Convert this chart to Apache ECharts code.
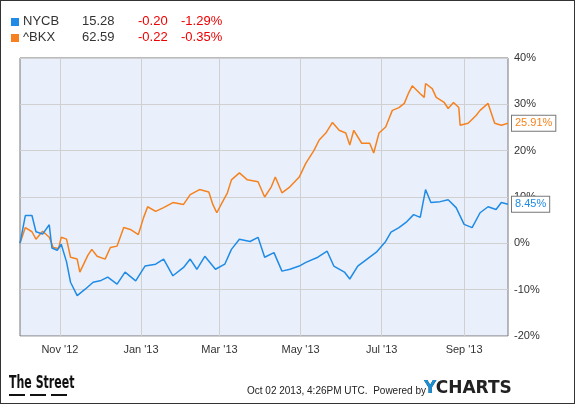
<!DOCTYPE html>
<html>
<head>
<meta charset="utf-8">
<script src="https://cdn.jsdelivr.net/npm/echarts@6/dist/echarts.min.js"></script>
<style>
html, body { margin: 0; padding: 0; background: #fff; }
#chart { width: 575px; height: 404px; box-sizing: border-box; border: 1px solid #333; }
</style>
</head>
<body>
<div id="chart"></div>
<script>
// days since Oct 2 2012, percent change
var nycbDays = [0,4,9,12,17,22,24,28,31,35,38,43,49,55,61,66,73,79,87,94,102,108,115,123,128,133,139,147,154,159,165,173,179,184,191,197,203,210,215,224,231,236,244,248,254,261,268,275,279,285,291,296,301,305,309,316,322,328,334,340,346,352,358,362,367];
var nycbVals = [0,6,6,2.5,2,4,-1,-1.5,-0.2,-4,-8.4,-11.3,-9.9,-8.4,-8,-7.3,-8.8,-6.2,-8.1,-4.9,-4.5,-3.4,-7,-5.2,-3.4,-5.6,-2.8,-5.6,-4.5,-1.3,0.9,0.4,1.3,-3,-2,-6,-5.6,-4.9,-4.1,-3,-1.7,-4.9,-6.2,-7.7,-4.9,-3.4,-1.9,0.4,2.4,3.4,4.7,6.2,5.6,11.6,8.8,9,9.4,7.7,4.1,3.4,6.6,7.9,7.3,8.8,8.45];
var bkxDays = [0,4,9,12,17,22,25,29,31,35,38,43,45,51,54,58,64,68,73,78,83,89,93,96,102,108,115,123,128,135,142,145,148,152,156,159,165,171,179,184,189,192,197,203,210,215,221,225,230,235,240,245,248,251,257,263,266,270,275,280,285,289,292,295,301,304,305,310,313,319,322,326,330,331,337,343,346,352,357,362,367];
var bkxVals = [0,3.4,2.5,0.9,2.6,1.3,-0.9,-1.1,1.3,0.9,-3,-3.4,-6.2,-2.6,-1.3,-2.8,-3.4,-0.9,-0.6,3.4,3,1.9,5.6,7.9,6.9,7.7,8.8,8.4,10.5,11.6,11.1,8.4,6.6,8.8,10.9,13.7,15.2,13.7,13.3,10,12.2,14.3,10.9,12.2,14.3,17.3,20,22.3,23.8,26.1,24.4,23.8,21.2,24.4,21.6,21.6,19.5,23.8,25.1,28.7,29.3,30.2,32.3,34,32.3,31.5,34.5,33.4,31.5,30.4,29.1,30.4,29.3,25.5,25.9,27.6,28.7,30.2,25.9,25.5,25.91];
var monthTicks = ['2012-11-01','2013-01-01','2013-03-01','2013-05-01','2013-07-01','2013-09-01'];
var monthLabels = ["Nov '12","Jan '13","Mar '13","May '13","Jul '13","Sep '13"];
var legendRows = [
  ['NYCB', '15.28', '-0.20', '-1.29%', '#1f8be6'],
  ['^BKX', '62.59', '-0.22', '-0.35%', '#f5821f']
];

var DAY = 86400000;
var start = Date.UTC(2012, 9, 2);
function pairs(days, vals) {
  return days.map(function (d, i) { return [d, vals[i]]; });
}
var tickDays = monthTicks.map(function (s) { return Math.round((Date.parse(s + 'T00:00:00Z') - start) / DAY); });

var chart = echarts.init(document.getElementById('chart'));
var font = 'Liberation Sans, Arial, sans-serif';

var graphics = [];
legendRows.forEach(function (r, i) {
  var y = 14 + i * 16;
  graphics.push({ type: 'rect', left: 10, top: y + 3, shape: { width: 8, height: 8 }, style: { fill: r[4] } });
  graphics.push({ type: 'text', left: 22, top: y, style: { text: r[0], fill: '#333', font: '13px ' + font } });
  graphics.push({ type: 'text', left: 81, top: y, style: { text: r[1], fill: '#333', font: '13px ' + font } });
  graphics.push({ type: 'text', left: 137, top: y, style: { text: r[2], fill: '#e00', font: '13px ' + font } });
  graphics.push({ type: 'text', left: 180, top: y, style: { text: r[3], fill: '#e00', font: '13px ' + font } });
});
graphics.push({ type: 'text', x: 8, y: 373, scaleX: 0.68, style: { text: 'The Street', fill: '#111', font: 'bold 18px "DejaVu Sans Condensed", sans-serif' } });
[8, 29, 50].forEach(function (x) {
  graphics.push({ type: 'rect', left: x, top: 393, shape: { width: 16, height: 2 }, style: { fill: '#111' } });
});
graphics.push({ type: 'text', left: 246, top: 385, style: { text: 'Oct 02 2013, 4:26PM UTC.  Powered by', fill: '#222', font: '10px ' + font } });
graphics.push({ type: 'text', left: 423, top: 379, style: { text: 'YCHARTS', fill: '#222', font: 'bold 17px "DejaVu Sans", sans-serif' } });
graphics.push({ type: 'text', left: 423, top: 379, style: { text: 'Y', fill: '#1a8fd6', font: 'bold 17px "DejaVu Sans", sans-serif' } });

var option = {
  animation: false,
  backgroundColor: '#fff',
  grid: { left: 19, right: 66, top: 57, bottom: 67, show: true, backgroundColor: '#eaf0fb', borderColor: '#777', borderWidth: 1 },
  xAxis: {
    type: 'value',
    min: 0,
    max: 367,
    axisLine: { show: false },
    axisTick: { show: false, customValues: tickDays },
    splitLine: { show: false },
    axisLabel: {
      customValues: tickDays,
      color: '#333', fontSize: 11, fontFamily: font, margin: 8,
      formatter: function (v) {
        var i = tickDays.indexOf(v);
        return i >= 0 ? monthLabels[i] : '';
      }
    }
  },
  yAxis: {
    type: 'value',
    position: 'right',
    min: -20, max: 40, interval: 10,
    axisLine: { show: false },
    axisTick: { show: false },
    splitLine: { lineStyle: { color: '#d0d0d0' } },
    axisLabel: { formatter: '{value}%', color: '#333', fontSize: 11, fontFamily: font, margin: 6 }
  },
  graphic: graphics,
  series: [
    {
      name: 'NYCB', type: 'line', data: pairs(nycbDays, nycbVals), showSymbol: false,
      lineStyle: { color: '#1f8be6', width: 1.5 }, itemStyle: { color: '#1f8be6' }, z: 3,
      endLabel: { show: true, formatter: '8.45%', color: '#1f8be6', fontSize: 11, fontFamily: font,
        backgroundColor: '#fff', borderColor: '#777', borderWidth: 1, padding: [2, 3], distance: 4 },
      markLine: {
        silent: true, symbol: 'none', label: { show: false }, z: 1,
        lineStyle: { color: '#d0d0d0', type: 'solid', width: 1 },
        data: tickDays.map(function (d) { return { xAxis: d }; })
      }
    },
    {
      name: '^BKX', type: 'line', data: pairs(bkxDays, bkxVals), showSymbol: false,
      lineStyle: { color: '#f5821f', width: 1.5 }, itemStyle: { color: '#f5821f' }, z: 2,
      endLabel: { show: true, formatter: '25.91%', color: '#f5821f', fontSize: 11, fontFamily: font,
        backgroundColor: '#fff', borderColor: '#777', borderWidth: 1, padding: [2, 3], distance: 4 }
    }
  ]
};
chart.setOption(option);
</script>
</body>
</html>
